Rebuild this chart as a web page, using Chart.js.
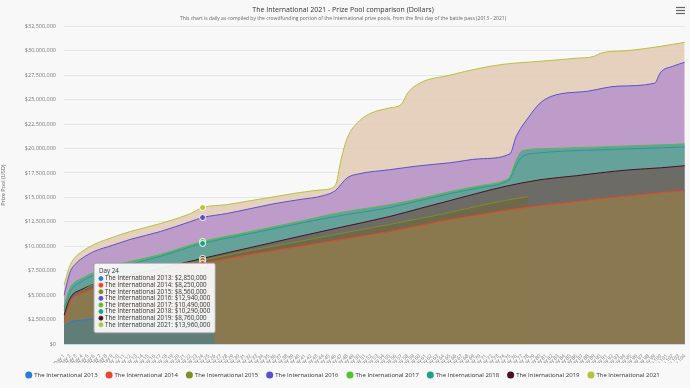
<!DOCTYPE html>
<html><head><meta charset="utf-8">
<script src="https://cdn.jsdelivr.net/npm/chart.js@4.4.1/dist/chart.umd.min.js"></script>
<style>html,body{margin:0;padding:0;background:#f8f8f8;overflow:hidden}</style>
</head><body>
<canvas id="c" width="690" height="388"></canvas>
<script>
// ---- data (values in millions of USD) ----
const categories = [];
for (let i = 1; i <= 104; i++) categories.push('Day ' + i);

const yTicks = [0, 2.5, 5, 7.5, 10, 12.5, 15, 17.5, 20, 22.5, 25, 27.5, 30, 32.5];

const days2013 = [1, 2, 4, 9, 17, 24, 26];
const prize2013 = [1.83, 2.24, 2.45, 2.65, 2.75, 2.85, 2.95];

const days2014 = [1, 2, 4, 9, 17, 24, 32, 40, 46, 55, 60, 65, 70, 74, 80, 86, 90, 95, 100, 104];
const prize2014 = [2.24, 4.28, 5.20, 6.11, 7.23, 8.25, 9.17, 9.98, 10.60, 11.51, 12.12, 12.74, 13.24, 13.65, 14.16, 14.57, 14.87, 15.18, 15.49, 15.69];

const days2015 = [1, 4, 9, 17, 24, 32, 40, 46, 55, 60, 65, 70, 74, 78];
const prize2015 = [2.65, 5.40, 6.42, 7.54, 8.56, 9.58, 10.49, 11.21, 12.23, 12.84, 13.45, 14.16, 14.67, 15.08];

const days2016 = [1, 2, 3, 4, 6, 9, 12, 17, 22, 24, 28, 32, 36, 40, 44, 46, 48, 50, 55, 60, 65, 70, 75, 76, 78, 80, 82, 88, 93, 99, 100, 102, 104];
const prize2016 = [4.99, 7.34, 8.25, 8.76, 9.47, 10.09, 10.70, 11.51, 12.53, 12.94, 13.35, 13.86, 14.37, 14.77, 15.18, 15.69, 17.01, 17.42, 17.83, 18.24, 18.54, 18.95, 19.46, 21.19, 23.13, 24.65, 25.37, 25.88, 26.39, 26.69, 27.81, 28.42, 28.83];

const days2017 = [1, 2, 4, 9, 17, 24, 32, 40, 46, 55, 60, 65, 70, 74, 75, 76, 77, 80, 90, 100, 104];
const prize2017 = [3.87, 5.71, 6.72, 7.95, 9.17, 10.49, 11.51, 12.53, 13.35, 14.26, 14.87, 15.59, 16.20, 16.71, 17.12, 18.75, 19.76, 19.97, 20.17, 20.38, 20.48];

const days2018 = [1, 2, 4, 9, 17, 24, 32, 40, 46, 55, 60, 65, 70, 74, 75, 76, 77, 80, 90, 100, 104];
const prize2018 = [3.46, 5.30, 6.42, 7.64, 8.97, 10.29, 11.31, 12.33, 13.04, 13.96, 14.67, 15.38, 16.00, 16.50, 16.91, 18.24, 19.15, 19.56, 19.87, 20.07, 20.17];

const days2019 = [1, 2, 4, 9, 17, 24, 32, 40, 46, 55, 60, 65, 70, 74, 80, 86, 90, 95, 100, 104];
const prize2019 = [2.95, 4.69, 5.60, 6.62, 7.74, 8.76, 9.88, 11.00, 11.82, 13.04, 13.86, 14.67, 15.49, 16.10, 16.81, 17.22, 17.52, 17.83, 18.03, 18.24];

const days2021 = [1, 2, 3, 4, 6, 9, 12, 17, 22, 24, 28, 32, 36, 40, 44, 46, 47, 48, 50, 52, 55, 57, 58, 60, 65, 70, 74, 80, 86, 89, 90, 95, 100, 104];
const prize2021 = [6.01, 8.05, 8.97, 9.47, 10.19, 10.90, 11.51, 12.33, 13.35, 13.96, 14.26, 14.67, 15.08, 15.49, 15.79, 16.20, 18.95, 21.09, 22.82, 23.64, 24.15, 24.55, 25.67, 26.69, 27.51, 28.22, 28.63, 28.93, 29.24, 29.44, 29.75, 30.05, 30.46, 30.87];

const seriesNames = ['The International 2013', 'The International 2014', 'The International 2015', 'The International 2016',
  'The International 2017', 'The International 2018', 'The International 2019', 'The International 2021'];
const hoverDay = 'Day 24';

// ---- styling ----
const lineColors = ['#2b7bd6', '#e8452c', '#7d8f25', '#5b4fd0', '#52c234', '#1fa08a', '#4a1024', '#b7c23b'];
const fillColors = ['rgba(92,126,124,0.92)', 'rgba(140,122,80,0.93)', 'rgba(112,104,72,0.9)', 'rgba(184,150,202,0.9)',
  'rgba(100,154,170,0.9)', 'rgba(100,164,152,0.9)', 'rgba(108,102,98,0.92)', 'rgba(227,205,183,0.92)'];
const drawOrder = [0, 1, 2, 6, 5, 4, 3, 7];

const allDays = [days2013, days2014, days2015, days2016, days2017, days2018, days2019, days2021];
const allPrize = [prize2013, prize2014, prize2015, prize2016, prize2017, prize2018, prize2019, prize2021];

const datasets = seriesNames.map((name, i) => ({
  label: name,
  data: allDays[i].map((d, k) => ({ x: categories[d - 1], y: Math.round(allPrize[i][k] * 1e6) })),
  borderColor: lineColors[i],
  backgroundColor: fillColors[i],
  fill: 'origin',
  borderWidth: 1,
  pointRadius: 0,
  pointHoverRadius: 3,
  pointHoverBorderWidth: 1,
  pointHoverBorderColor: '#ffffff',
  pointHoverBackgroundColor: lineColors[i],
  cubicInterpolationMode: 'monotone',
  order: drawOrder[i]
}));

Chart.defaults.font.family = "'Open Sans', 'DejaVu Sans', sans-serif";
Chart.defaults.color = '#666';

Chart.Tooltip.positioners.besidePoint = function (items) {
  if (!items.length) return false;
  const ca = this.chart.chartArea;
  return { x: items[0].element.x - 48, y: ca.bottom - 46 };
};

const menuIcon = {
  id: 'menuIcon',
  afterDraw(chart) {
    const ctx = chart.ctx;
    ctx.save();
    ctx.strokeStyle = '#666';
    ctx.lineWidth = 1.2;
    [7, 10, 13].forEach(y => { ctx.beginPath(); ctx.moveTo(676, y + 0.5); ctx.lineTo(685, y + 0.5); ctx.stroke(); });
    ctx.restore();
  }
};
const bg = {
  id: 'bg',
  beforeDraw(chart) {
    const ctx = chart.ctx; ctx.save(); ctx.fillStyle = '#f8f8f8'; ctx.fillRect(0, 0, chart.width, chart.height); ctx.restore();
  }
};

const fmt = v => '$' + Math.round(v).toLocaleString('en-US');

const chart = new Chart(document.getElementById('c'), {
  type: 'line',
  data: { labels: categories, datasets },
  plugins: [bg, menuIcon],
  options: {
    responsive: false,
    animation: false,
    devicePixelRatio: 1,
    layout: { padding: { left: 0, right: 4, top: 3, bottom: 0 } },
    interaction: { mode: 'index', intersect: false },
    scales: {
      x: {
        type: 'category',
        offset: false,
        grid: { display: false },
        border: { display: true, color: '#ccd6eb' },
        ticks: { autoSkip: false, maxRotation: 45, minRotation: 45, font: { size: 5 }, color: '#777', padding: 1 },
        afterFit(s) { s.height = 19; }
      },
      y: {
        min: 0, max: 32.5e6,
        afterBuildTicks(s) { s.ticks = yTicks.map(v => ({ value: v * 1e6 })); },
        grid: { color: '#e6e6e6', drawTicks: false },
        border: { display: false },
        ticks: { font: { size: 5.5 }, color: '#777', padding: 8, callback: v => fmt(v) },
        title: { display: true, text: 'Prize Pool (USD)', font: { size: 5.5 }, color: '#666', padding: 0 },
        afterFit(s) { s.width = 64; }
      }
    },
    plugins: {
      title: { display: true, text: 'The International 2021 - Prize Pool comparison (Dollars)', font: { size: 7, weight: 'normal' }, color: '#333', padding: { top: 3, bottom: 1 } },
      subtitle: { display: true, text: 'This chart is daily as compiled by the crowdfunding portion of the International prize pools, from the first day of the battle pass (2013 - 2021)', font: { size: 5 }, color: '#666', padding: { top: 0, bottom: 5 } },
      legend: {
        position: 'bottom',
        labels: {
          usePointStyle: true, pointStyle: 'circle', boxWidth: 5, boxHeight: 5, padding: 9,
          font: { size: 6 }, color: '#333',
          sort: (a, b) => a.datasetIndex - b.datasetIndex,
          generateLabels(ch) {
            return ch.data.datasets.map((ds, i) => ({
              text: ds.label, fillStyle: lineColors[i], strokeStyle: lineColors[i], lineWidth: 0,
              pointStyle: 'circle', datasetIndex: i, hidden: false, fontColor: '#333'
            }));
          }
        }
      },
      tooltip: {
        position: 'besidePoint', xAlign: 'center', yAlign: 'center', caretSize: 0,
        backgroundColor: 'rgba(251,251,251,0.93)', borderColor: '#999', borderWidth: 1, cornerRadius: 2,
        titleColor: '#333', bodyColor: '#333',
        titleFont: { size: 6.3, weight: 'normal', lineHeight: 1.0 }, bodyFont: { size: 6.3, lineHeight: 1.0 },
        padding: 5, bodySpacing: 0.3, titleMarginBottom: 1, boxWidth: 4, boxHeight: 4, usePointStyle: true,
        itemSort: (a, b) => a.datasetIndex - b.datasetIndex,
        callbacks: {
          title: items => items.length ? items[0].label : '',
          label: ctx => ctx.dataset.label + ': ' + fmt(ctx.parsed.y),
          labelColor: ctx => ({ borderColor: lineColors[ctx.datasetIndex], backgroundColor: lineColors[ctx.datasetIndex] }),
          labelPointStyle: () => ({ pointStyle: 'circle', rotation: 0 })
        }
      }
    }
  }
});

const active = datasets.map((ds, i) => ({ datasetIndex: i, index: ds.data.findIndex(p => p.x === hoverDay) })).filter(a => a.index >= 0);
chart.setActiveElements(active);
chart.tooltip.setActiveElements(active, { x: 0, y: 0 });
chart.update();
</script>
</body></html>
